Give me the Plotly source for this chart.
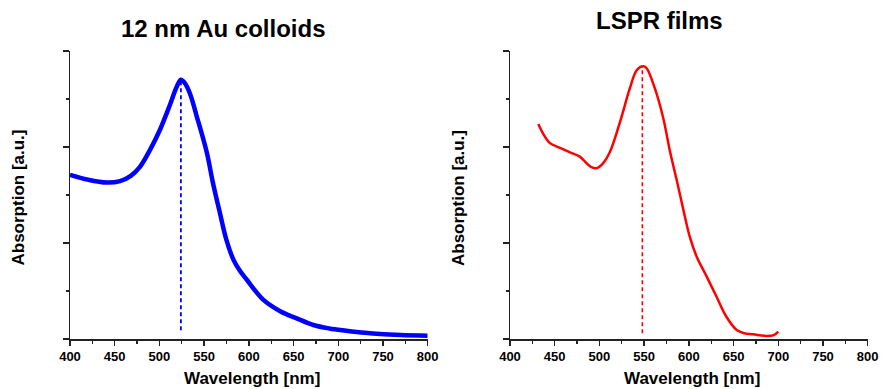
import plotly.graph_objects as go

# ---- data ----
wl_colloid = [400, 420, 441, 456, 468, 478, 489.5, 500.6, 511.8, 519, 524, 528, 534,
              541.7, 552.8, 560, 567.7, 575, 582.6, 590, 597.5, 616, 635, 653.5, 672,
              690, 709, 730, 746.7, 770, 800]
abs_colloid = [1.71, 1.66, 1.63, 1.645, 1.70, 1.79, 1.97, 2.18, 2.44, 2.62, 2.70, 2.67, 2.56,
               2.32, 1.95, 1.62, 1.31, 1.03, 0.83, 0.71, 0.62, 0.41, 0.29, 0.215, 0.146,
               0.11, 0.087, 0.065, 0.052, 0.042, 0.035]

wl_film = [431.7, 437, 444.7, 456, 467, 478, 485.8, 491, 497, 504, 511.8, 523, 534, 541.7,
           549, 552.8, 562, 571.4, 579, 586.4, 594, 601, 608.8, 620, 631, 642, 653.5, 662,
           672, 687, 695, 700]
abs_film = [2.24, 2.14, 2.04, 1.99, 1.945, 1.90, 1.83, 1.79, 1.78, 1.83, 1.95, 2.26, 2.61, 2.80,
            2.84, 2.82, 2.61, 2.30, 1.95, 1.656, 1.34, 1.066, 0.857, 0.65, 0.44, 0.232, 0.094, 0.06,
            0.049, 0.031, 0.04, 0.076]

peak_colloid_x = [524, 524]
peak_colloid_y = [0.09, 2.70]
peak_film_x = [548, 548]
peak_film_y = [0.06, 2.84]

x_ticks = [400, 450, 500, 550, 600, 650, 700, 750, 800]
titles = ["12 nm Au colloids", "LSPR films"]
x_title = "Wavelength [nm]"
y_title = "Absorption [a.u.]"

W, H = 881, 389
FONT = "Liberation Sans, Arial, sans-serif"

fig = go.Figure()
fig.add_trace(go.Scatter(x=wl_colloid, y=abs_colloid, mode="lines", line=dict(color="#0000ff", width=4.5, shape="spline"),
                         xaxis="x", yaxis="y", showlegend=False))
fig.add_trace(go.Scatter(x=peak_colloid_x, y=peak_colloid_y, mode="lines",
                         line=dict(color="#0000ff", width=1.8, dash="4px,3px"),
                         xaxis="x", yaxis="y", showlegend=False))
fig.add_trace(go.Scatter(x=wl_film, y=abs_film, mode="lines", line=dict(color="#ff0000", width=2.5, shape="spline"),
                         xaxis="x2", yaxis="y2", showlegend=False))
fig.add_trace(go.Scatter(x=peak_film_x, y=peak_film_y, mode="lines",
                         line=dict(color="#ff0000", width=1.6, dash="4px,3px"),
                         xaxis="x2", yaxis="y2", showlegend=False))

def px_x(p):
    return p / W

def px_y(p):
    return (H - p) / H

xcommon = dict(range=[400, 800], tickvals=x_ticks, ticks="outside", ticklen=5, tickwidth=1.5,
               tickcolor="#222", showline=True, linecolor="#222", linewidth=1.5, showgrid=False,
               zeroline=False, tickfont=dict(family=FONT, size=13, color="black", weight="bold"),
               minor=dict(dtick=25, tick0=400, ticks="outside", ticklen=3, tickwidth=1.2, tickcolor="#222"),
               fixedrange=True, automargin=False, ticklabeloverflow="allow")
ycommon = dict(range=[0, 3], dtick=1, tick0=0, ticks="outside", ticklen=6, tickwidth=1.5, tickcolor="#222",
               showline=True, linecolor="#222", linewidth=1.5, showgrid=False, zeroline=False,
               showticklabels=False,
               minor=dict(dtick=0.5, tick0=0, ticks="outside", ticklen=3, tickwidth=1.2, tickcolor="#222"),
               fixedrange=True, automargin=False)

fig.update_layout(
    width=W, height=H, margin=dict(l=0, r=0, t=0, b=0, autoexpand=False),
    paper_bgcolor="white", plot_bgcolor="white", hovermode=False,
    xaxis=dict(domain=[px_x(70), px_x(427.7)], anchor="y", **xcommon),
    yaxis=dict(domain=[px_y(339), px_y(51)], anchor="x", **ycommon),
    xaxis2=dict(domain=[px_x(510), px_x(867.7)], anchor="y2", **xcommon),
    yaxis2=dict(domain=[px_y(339), px_y(51)], anchor="x2", **ycommon),
)

ann = []
tfont = dict(family=FONT, size=24, color="black", weight="bold")
ann.append(dict(text=titles[0], x=px_x(223.5), y=px_y(28), xref="paper", yref="paper",
                xanchor="center", yanchor="middle", showarrow=False, font=tfont))
ann.append(dict(text=titles[1], x=px_x(659), y=px_y(21), xref="paper", yref="paper",
                xanchor="center", yanchor="middle", showarrow=False, font=tfont))
afont = dict(family=FONT, size=17, color="black", weight="bold")
for cx in (252, 692):
    ann.append(dict(text=x_title, x=px_x(cx), y=0, xref="paper", yref="paper",
                    xanchor="center", yanchor="bottom", showarrow=False, font=afont, borderpad=0))
for cx in (18.5, 459):
    ann.append(dict(text=y_title, x=px_x(cx), y=px_y(198), xref="paper", yref="paper",
                    xanchor="center", yanchor="middle", showarrow=False, font=afont, textangle=-90))
fig.update_layout(annotations=ann)

fig.write_html("out.html", config={"displayModeBar": False, "staticPlot": True},
               post_script="document.body.style.margin='0px';document.documentElement.style.overflow='hidden';document.body.style.overflow='hidden';")
